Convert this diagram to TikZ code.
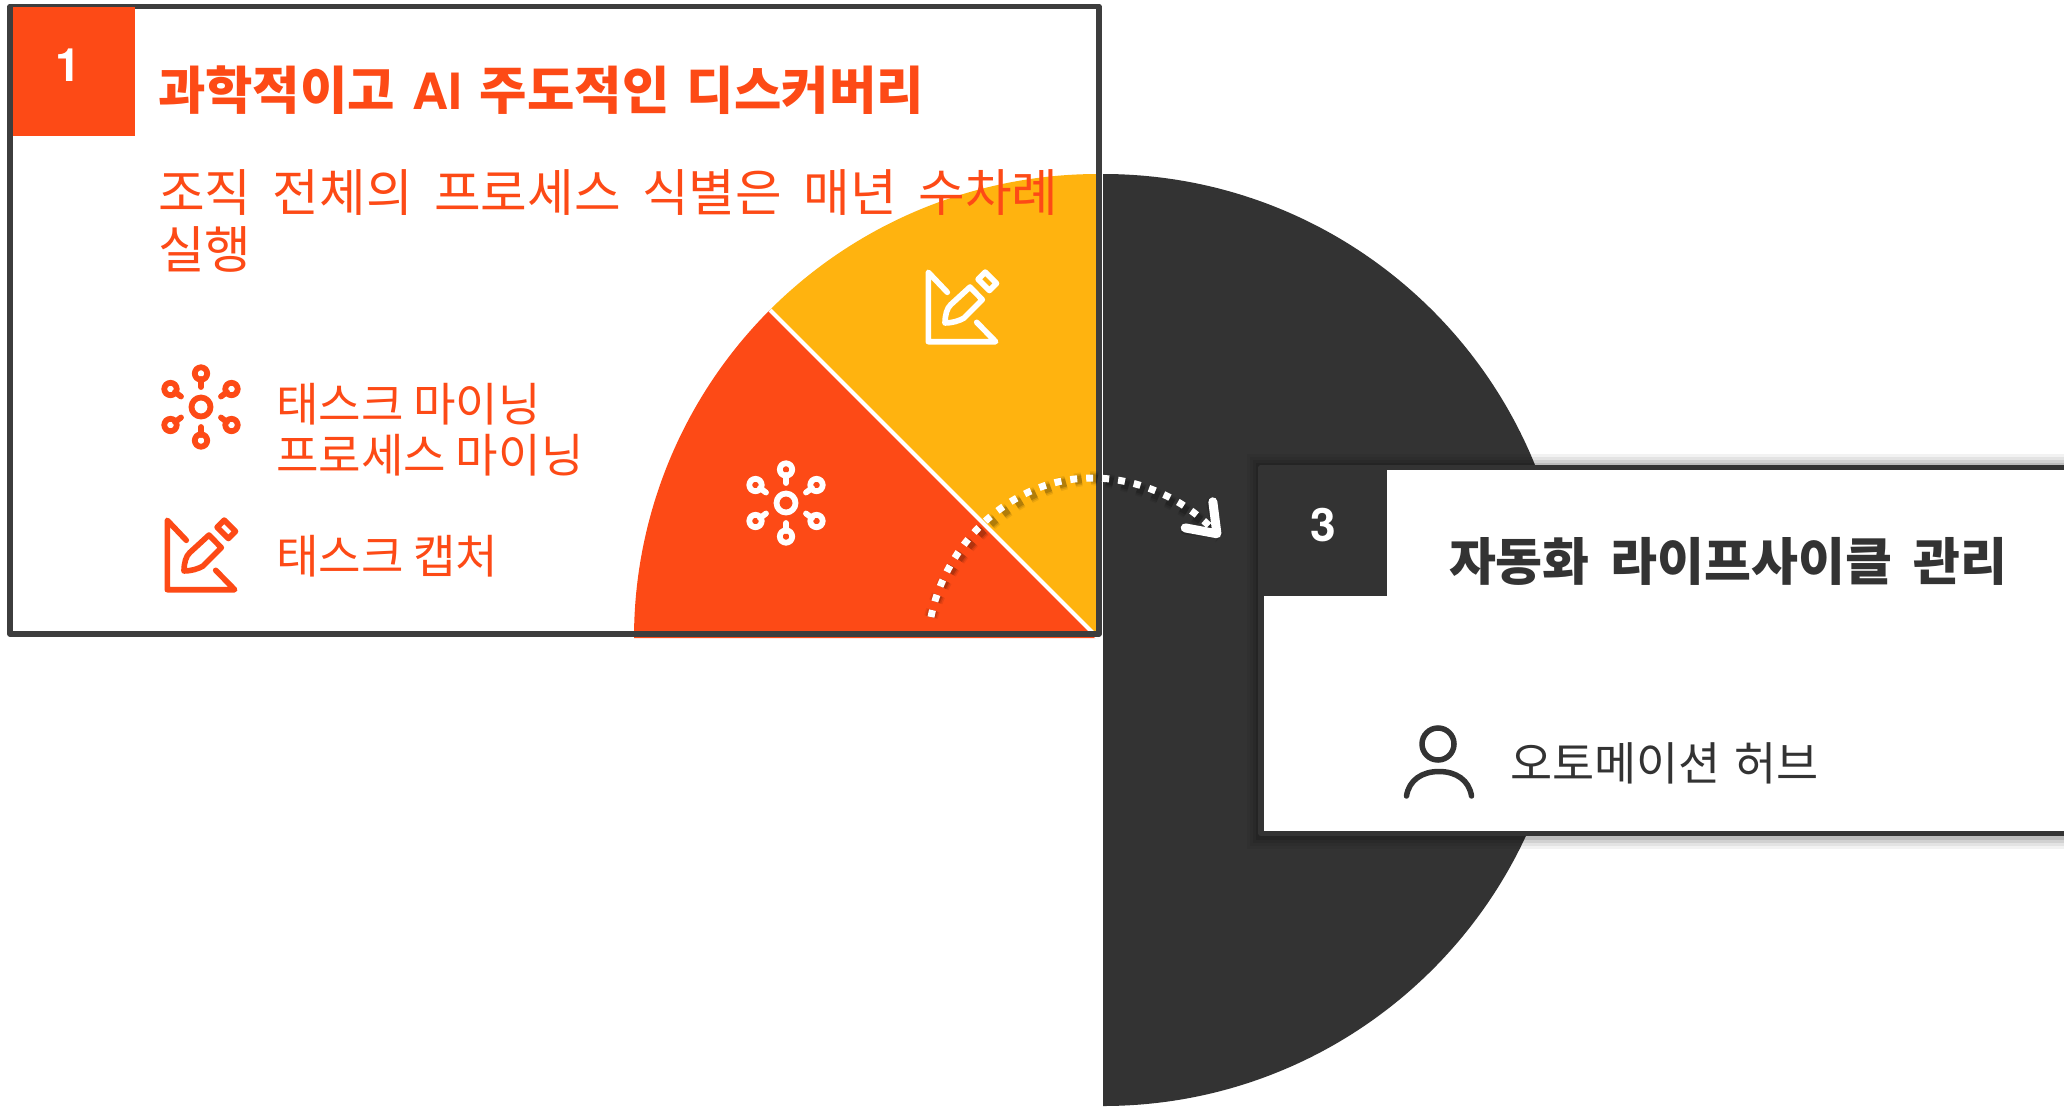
\documentclass[tikz,border=0pt]{standalone}
\usepackage{fontspec}
\usetikzlibrary{arrows.meta}
\setmainfont{Noto Sans CJK KR}
\newfontfamily\latinf{TeX Gyre Heros}
\definecolor{brandorange}{HTML}{FD4A16}
\definecolor{brandyellow}{HTML}{FFB30F}
\definecolor{brandgrey}{HTML}{333333}
\newcommand{\titlef}{\bfseries\fontsize{51.5}{56}\selectfont\spaceskip=17.5pt\relax}
\newcommand{\titleg}{\bfseries\fontsize{51}{56}\selectfont\spaceskip=21pt\relax}
\newcommand{\bodyf}{\fontsize{50.7}{56}\selectfont\spaceskip=21.5pt\relax}
\newcommand{\listf}{\fontsize{46.2}{50}\selectfont\spaceskip=10pt\relax}
\newcommand{\listg}{\fontsize{45.8}{50}\selectfont\spaceskip=14pt\relax}
\newcommand{\hubicon}[3]{%
  \begin{scope}[shift={(#1,#2)},draw=#3,line width=5.8pt,line cap=round,line join=round]
    \draw (0,0) circle[radius=9.5];
    \draw (0,-33.5) circle[radius=6.2];
    \draw (0,33.5) circle[radius=6.2];
    \draw (30.5,-18) circle[radius=6.2];
    \draw (30.5,18) circle[radius=6.2];
    \draw (-30.5,-18) circle[radius=6.2];
    \draw (-30.5,18) circle[radius=6.2];
    \draw (0,-28) -- (0,-20);
    \draw (0,28) -- (0,20);
    \draw (26,-15) -- (20,-10.5);
    \draw (26,15) -- (20,10.5);
    \draw (-26,-15) -- (-20,-10.5);
    \draw (-26,15) -- (-20,10.5);
  \end{scope}}
\newcommand{\penicon}[3]{%
  \begin{scope}[shift={(#1,#2)},draw=#3,line width=5.6pt,line cap=round,line join=round]
    \draw (-14.7,-14.7) -- (-33.7,-34.7) -- (-33.7,34.7) -- (33.7,34.7) -- (14.7,15.3);
    \draw (-17,16) .. controls (-17,8) and (-15,1) .. (-11.3,-2.3) -- (8,-20) -- (20.3,-7.3) -- (2,11) .. controls (-3,14) and (-10,16) .. cycle;
    \draw (34.5,-23.6) -- (27.4,-16.5) -- (16.1,-27.8) -- (23.2,-34.9) -- cycle;
  \end{scope}}
\tikzset{
  label text/.style={inner sep=0pt,outer sep=0pt,anchor=west},
  badge/.style={inner sep=0pt,outer sep=0pt,minimum width=122pt,minimum height=127pt,anchor=north west},
  dotline/.style={dash pattern=on 7pt off 9pt,line width=7pt},
  barb/.style={-{Straight Barb[length=26pt,width=38pt,line width=9pt,round]}},
}
\begin{document}
\begin{tikzpicture}[x=1pt,y=-1pt]
\clip (0,0) rectangle (2064,1106);
\fill[white] (0,0) rectangle (2064,1106);
% dark half disc
\fill[brandgrey] (1103,174) arc[start angle=-90,end angle=90,radius=466] -- cycle;
% card 1
\fill[white] (10,7) rectangle (1099,634);
\coordinate (pieC) at (1098,638);
\coordinate (pieE) at (770,310);
\fill[brandorange] (pieC) -- (634,638) arc[start angle=180,end angle=225,radius=464] -- cycle;
\fill[brandyellow] (pieC) -- (1098,174) arc[start angle=270,end angle=225,radius=464] -- cycle;
\draw[white,line width=4pt] (pieE) -- (pieC);
\draw[draw=brandgrey!95,line width=5.5pt,line join=round] (10,6.5) rectangle (1099,634);
\node[badge,fill=brandorange,minimum height=129pt] (b1) at (13,7) {};
\node[text=white,inner sep=0pt] (n1) at (68,65) {\latinf\bfseries\fontsize{46}{46}\selectfont 1};
\node[label text,text=brandorange] (t1) at (158,90) {\titlef 과학적이고 {\latinf\fontsize{50}{56}\selectfont AI} 주도적인 디스커버리};
\node[label text,text=brandorange] (d1) at (158,193) {\bodyf 조직 전체의 프로세스 식별은 매년 수차례};
\node[label text,text=brandorange] (d2) at (158,249) {\bodyf 실행};
\node[label text,text=brandorange] (l1) at (276,404) {\listf 태스크 마이닝};
\node[label text,text=brandorange] (l2) at (276,455) {\listf 프로세스 마이닝};
\node[label text,text=brandorange] (l3) at (276,556) {\listf 태스크 캡처};
\hubicon{201}{407}{brandorange}
\penicon{201}{555}{brandorange}
\hubicon{786}{503}{white}
\penicon{962}{307}{white}
% dotted arrow
\coordinate (arrS) at (931,617);
\coordinate (arrM) at (1092,478);
\coordinate (arrE) at (1220,537);
\begin{scope}[shift={(3,7)}]
  \draw[black,dotline,opacity=.07,line width=14pt] (arrS) .. controls (945,545) and (1010,478) .. (arrM) .. controls (1140,478) and (1185,500) .. (arrE);
  \draw[black,dotline,opacity=.10,line width=11pt] (arrS) .. controls (945,545) and (1010,478) .. (arrM) .. controls (1140,478) and (1185,500) .. (arrE);
  \draw[black,dotline,barb,opacity=.16,line width=8pt] (arrS) .. controls (945,545) and (1010,478) .. (arrM) .. controls (1140,478) and (1185,500) .. (arrE);
\end{scope}
\draw[white,dotline,barb] (arrS) .. controls (945,545) and (1010,478) .. (arrM) .. controls (1140,478) and (1185,500) .. (arrE);
% card 3
\foreach \g/\o in {12/.05,9/.06,6/.08,3/.10}{
  \fill[black,opacity=\o] (1258-\g+1,465-\g+1) rectangle (2070,836+\g+1);
}
\fill[white] (1261,467.5) rectangle (2070,833.5);
\draw[draw=brandgrey,line width=5.5pt,line join=round] (2075,467.5) -- (1261,467.5) -- (1261,833.5) -- (2075,833.5);
\node[badge,fill=brandgrey,minimum width=123pt,minimum height=126pt] (b3) at (1264,470) {};
\node[text=white,inner sep=0pt] (n3) at (1323,525) {\latinf\bfseries\fontsize{46}{46}\selectfont 3};
\node[label text,text=brandgrey] (t3) at (1449,561) {\titleg 자동화 라이프사이클 관리};
\node[label text,text=brandgrey] (l4) at (1510,763) {\listg 오토메이션 허브};
\draw[brandgrey,line width=5.5pt] (1438,744) circle[radius=16];
\draw[brandgrey,line width=5.5pt,line cap=round] (1406.5,796) .. controls (1409,780) and (1422,771.5) .. (1439,771.5) .. controls (1456,771.5) and (1469,780) .. (1471.5,796);
\end{tikzpicture}
\end{document}
